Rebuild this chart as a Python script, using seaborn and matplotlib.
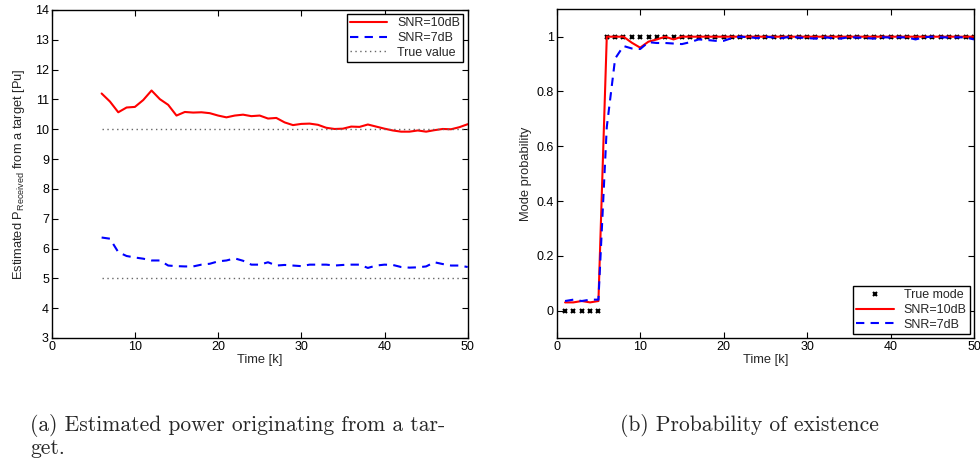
import numpy as np
import pandas as pd
import matplotlib
matplotlib.use("Agg")
import matplotlib.pyplot as plt
import seaborn as sns

# ---------------- data ----------------
k_power = list(range(6, 51))
power_10db = [11.20, 10.93, 10.57, 10.73, 10.75, 10.98, 11.30, 11.01, 10.82, 10.46,
              10.58, 10.56, 10.57, 10.54, 10.46, 10.40, 10.46, 10.49, 10.44, 10.46,
              10.36, 10.38, 10.23, 10.14, 10.18, 10.19, 10.15, 10.05, 10.01, 10.02,
              10.09, 10.08, 10.16, 10.09, 10.02, 9.96, 9.92, 9.92, 9.96, 9.92,
              9.97, 10.01, 10.00, 10.07, 10.17]
power_7db = [6.37, 6.33, 5.88, 5.75, 5.70, 5.66, 5.60, 5.60, 5.43, 5.41,
             5.40, 5.40, 5.46, 5.49, 5.57, 5.60, 5.67, 5.59, 5.46, 5.46,
             5.54, 5.43, 5.45, 5.43, 5.41, 5.46, 5.46, 5.46, 5.43, 5.45,
             5.46, 5.46, 5.35, 5.43, 5.46, 5.45, 5.38, 5.36, 5.37, 5.40,
             5.54, 5.48, 5.43, 5.43, 5.38]
true_power_10db = [10.0] * len(k_power)
true_power_7db = [5.0] * len(k_power)

k_mode = list(range(1, 51))
true_mode = [0] * 5 + [1] * 45
mode_10db = [0.030, 0.030, 0.035, 0.030, 0.035, 1.0, 1.0, 1.0, 0.978, 0.960,
             0.982, 0.990, 1.0, 0.990] + [1.0] * 36
mode_7db = [0.035, 0.040, 0.035, 0.040, 0.040, 0.670, 0.920, 0.966, 0.957, 0.955,
            0.980, 0.977, 0.977, 0.975, 0.973, 0.980, 0.990, 0.988, 0.985, 0.985,
            0.995, 1.000, 0.998, 0.995, 1.000, 0.997, 0.995, 1.000, 0.997, 0.995,
            0.993, 0.998, 0.995, 0.993, 0.998, 0.997, 0.995, 0.993, 0.998, 0.997,
            0.998, 0.997, 0.990, 0.998, 1.000, 0.998, 0.997, 0.998, 0.997, 0.990]

x_ticks = [0, 10, 20, 30, 40, 50]
left_yticks = list(range(3, 15))
right_yticks = [0, 0.2, 0.4, 0.6, 0.8, 1]
right_yticklabels = ["0", "0.2", "0.4", "0.6", "0.8", "1"]

caption_a = "(a) Estimated power originating from a tar-\nget."
caption_b = "(b) Probability of existence"

# ---------------- style ----------------
sns.set_style("white")
plt.rcParams["font.family"] = ["Liberation Sans", "DejaVu Sans"]
plt.rcParams["mathtext.fontset"] = "custom"
plt.rcParams["mathtext.rm"] = "Liberation Sans"
plt.rcParams["mathtext.it"] = "Liberation Sans"
plt.rcParams["mathtext.default"] = "regular"

fig = plt.figure(figsize=(9.8, 4.67), dpi=100)
ax1 = fig.add_axes([51.7 / 980, 1 - 338 / 467, 416 / 980, 328 / 467])
ax2 = fig.add_axes([556.7 / 980, 1 - 338 / 467, 417.3 / 980, 328.7 / 467])

def style_axes(ax):
    for s in ax.spines.values():
        s.set_color("black")
        s.set_linewidth(1.0)
        s.set_visible(True)
    ax.tick_params(axis="both", which="both", direction="in", top=True, right=True,
                   bottom=True, left=True, length=4, width=0.8, labelsize=9,
                   colors="black", pad=2)
    ax.set_facecolor("white")

leg_kw = dict(fontsize=9, frameon=True, fancybox=False, edgecolor="black",
              borderpad=0.25, labelspacing=0.2, handlelength=3.0,
              handletextpad=0.8, borderaxespad=0.35, framealpha=1)

# ---------------- left panel ----------------
sns.lineplot(x=k_power, y=power_10db, ax=ax1, color="red", lw=1.5, label="SNR=10dB")
sns.lineplot(x=k_power, y=power_7db, ax=ax1, color="blue", lw=1.5, label="SNR=7dB")
ax1.lines[-1].set_dashes((4, 3))
sns.lineplot(x=k_power, y=true_power_10db, ax=ax1, color="#666666", lw=1.0, label="True value")
ax1.lines[-1].set_linestyle((0, (1, 2.5)))
sns.lineplot(x=k_power, y=true_power_7db, ax=ax1, color="#666666", lw=1.0)
ax1.lines[-1].set_linestyle((0, (1, 2.5)))
ax1.set_xlim(0, 50)
ax1.set_ylim(3, 14)
ax1.set_xticks(x_ticks)
ax1.set_yticks(left_yticks)
ax1.set_xlabel("Time [k]", fontsize=9.3, labelpad=1)
ax1.set_ylabel(r"Estimated P$_{Received}$ from a target [Pu]", fontsize=9.3, labelpad=6)
style_axes(ax1)
leg1 = ax1.legend(loc="upper right", **leg_kw)
leg1.get_frame().set_linewidth(1.0)

# ---------------- right panel ----------------
sns.lineplot(x=k_mode, y=true_mode, ax=ax2, color="black", lw=0, marker="x",
             markersize=3.5, markeredgewidth=1.5, markeredgecolor="black",
             label="True mode")
sns.lineplot(x=k_mode, y=mode_10db, ax=ax2, color="red", lw=1.5, label="SNR=10dB")
sns.lineplot(x=k_mode, y=mode_7db, ax=ax2, color="blue", lw=1.5, label="SNR=7dB")
ax2.lines[-1].set_dashes((4, 3))
ax2.set_xlim(0, 50)
ax2.set_ylim(-0.1, 1.1)
ax2.set_xticks(x_ticks)
ax2.set_yticks(right_yticks)
ax2.set_yticklabels(right_yticklabels)
ax2.set_xlabel("Time [k]", fontsize=9.3, labelpad=1)
ax2.set_ylabel("Mode probability", fontsize=9.3, labelpad=3)
style_axes(ax2)
leg2 = ax2.legend(loc="lower right", **leg_kw)
leg2.get_frame().set_linewidth(1.0)

# ---------------- captions ----------------
fig.text(30 / 980, 1 - 414 / 467, caption_a, fontsize=15.5, family="cmr10",
         ha="left", va="top", linespacing=1.07)
fig.text(749 / 980, 1 - 414 / 467, caption_b, fontsize=15.5, family="cmr10",
         ha="center", va="top")

fig.savefig("out.png", dpi=100, facecolor="white")
